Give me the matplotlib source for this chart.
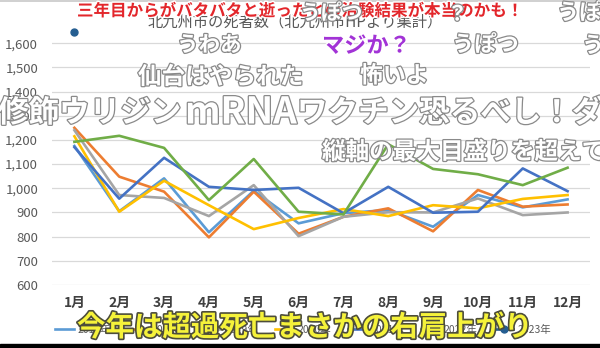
import matplotlib
matplotlib.use('Agg')
import matplotlib.pyplot as plt
import matplotlib.patheffects as pe
from matplotlib.patches import Rectangle
from matplotlib.lines import Line2D

plt.rcParams['font.family'] = ['Noto Sans CJK JP', 'DejaVu Sans']

# 北九州市の月別死者数
months = ['1月', '2月', '3月', '4月', '5月', '6月', '7月', '8月', '9月', '10月', '11月', '12月']
years = ['2017年', '2018年', '2019年', '2020年', '2021年', '2022年', '2023年']
d2017 = [1175, 905, 1041, 818, 990, 855, 897, 910, 841, 972, 921, 954]
d2018 = [1250, 1048, 986, 797, 986, 812, 882, 917, 822, 993, 924, 933]
d2019 = [1240, 972, 960, 885, 1013, 802, 882, 901, 900, 958, 889, 900]
d2020 = [1215, 903, 1031, 930, 831, 877, 914, 885, 930, 917, 956, 972]
d2021 = [1170, 957, 1126, 1006, 993, 1002, 897, 1006, 899, 903, 1082, 988]
d2022 = [1192, 1217, 1167, 951, 1121, 903, 892, 1182, 1080, 1058, 1013, 1085]
d2023 = [1645]
yticks = [600, 700, 800, 900, 1000, 1100, 1200, 1300, 1400, 1500, 1600]

colors = ['#5B9BD5', '#ED7D31', '#A5A5A5', '#FFC000', '#4472C4', '#70AD47', '#255E91']

W, H = 600, 348
fig = plt.figure(figsize=(6, 3.48), dpi=100)
ax = fig.add_axes([52 / W, 1 - 285 / H, 538 / W, 266 / H])

series = [d2017, d2018, d2019, d2020, d2021, d2022]
for data, c, lab in zip(series, colors, years):
    ax.plot(range(len(data)), data, color=c, lw=1.9, label=lab)
ax.plot(range(len(d2023)), d2023, color=colors[6], lw=1.9, marker='o', ms=5, label=years[6])

ax.set_xlim(-0.5, 11.5)
ax.set_ylim(600, 1700)
ax.set_yticks(yticks)
ax.set_yticklabels([f'{v:,}' for v in yticks], color='#595959', fontsize=9.5)
ax.set_xticks(range(12))
ax.set_xticklabels(months, color='#404040', fontsize=10, fontweight='bold')
ax.tick_params(length=0, pad=8)
ax.tick_params(axis='y', pad=10)
ax.grid(axis='y', color='#d9d9d9', lw=0.9)
ax.set_axisbelow(True)
for s in ax.spines.values():
    s.set_visible(False)

ax.legend(loc='center', bbox_to_anchor=(303 / W, 1 - 330 / H), bbox_transform=fig.transFigure,
          ncol=7, frameon=False, fontsize=7.5, handlelength=1.8, columnspacing=1.6,
          handletextpad=0.4, labelcolor='#595959')

fig.text(295 / W, 1 - 22 / H, '北九州市の死者数（北九州市HPより集計）',
         ha='center', va='center', fontsize=11, color='#595959')

# 流れるコメント
def comment(text, x, y, size, fill='white', edge='#8a8a8a', lw=1.8):
    fig.text(x / W, 1 - y / H, text, ha='left', va='center', fontsize=size,
             fontweight='bold', color=fill,
             path_effects=[pe.withStroke(linewidth=lw, foreground=edge)])

comment('三年目からがバタバタと逝ったとの治験結果が本当のかも！', 77, 11, 11.9,
        fill='#e3262b', edge='white', lw=2)
comment('うぽつ', 300, 13, 15)
comment('？', 447, 14, 15)
comment('うぽつ', 557, 13, 16)
comment('うわあ', 177, 45, 15.5)
comment('マジか？', 322, 46, 16, fill='#a233d6', edge='white', lw=2)
comment('うぽつ', 452, 45, 16)
comment('うぽつ', 582, 46, 16)
comment('仙台はやられた', 138, 77, 17)
comment('怖いよ', 360, 76, 16.5)
# 大きいコメントは英字だけ幅広に
comment('修飾ウリジン', -2, 113, 22)
comment('mRNA', 185, 113, 26.5)
comment('ワクチン恐るべし！ダ', 297, 113, 22)
comment('縦軸の最大目盛りを超えて', 322, 152, 17)
comment('今年は超過死亡まさかの右肩上がり', 77, 328, 20.5, fill='#f5f23a', edge='#4d4d3a', lw=2.4)

fig.add_artist(Line2D([0, 1], [1 - 1 / H, 1 - 1 / H], transform=fig.transFigure,
                      color='#c8c8c8', lw=1.2))
fig.add_artist(Rectangle((0, 0), 1, 4 / H, transform=fig.transFigure, color='black'))

fig.savefig('out.png', dpi=100)
